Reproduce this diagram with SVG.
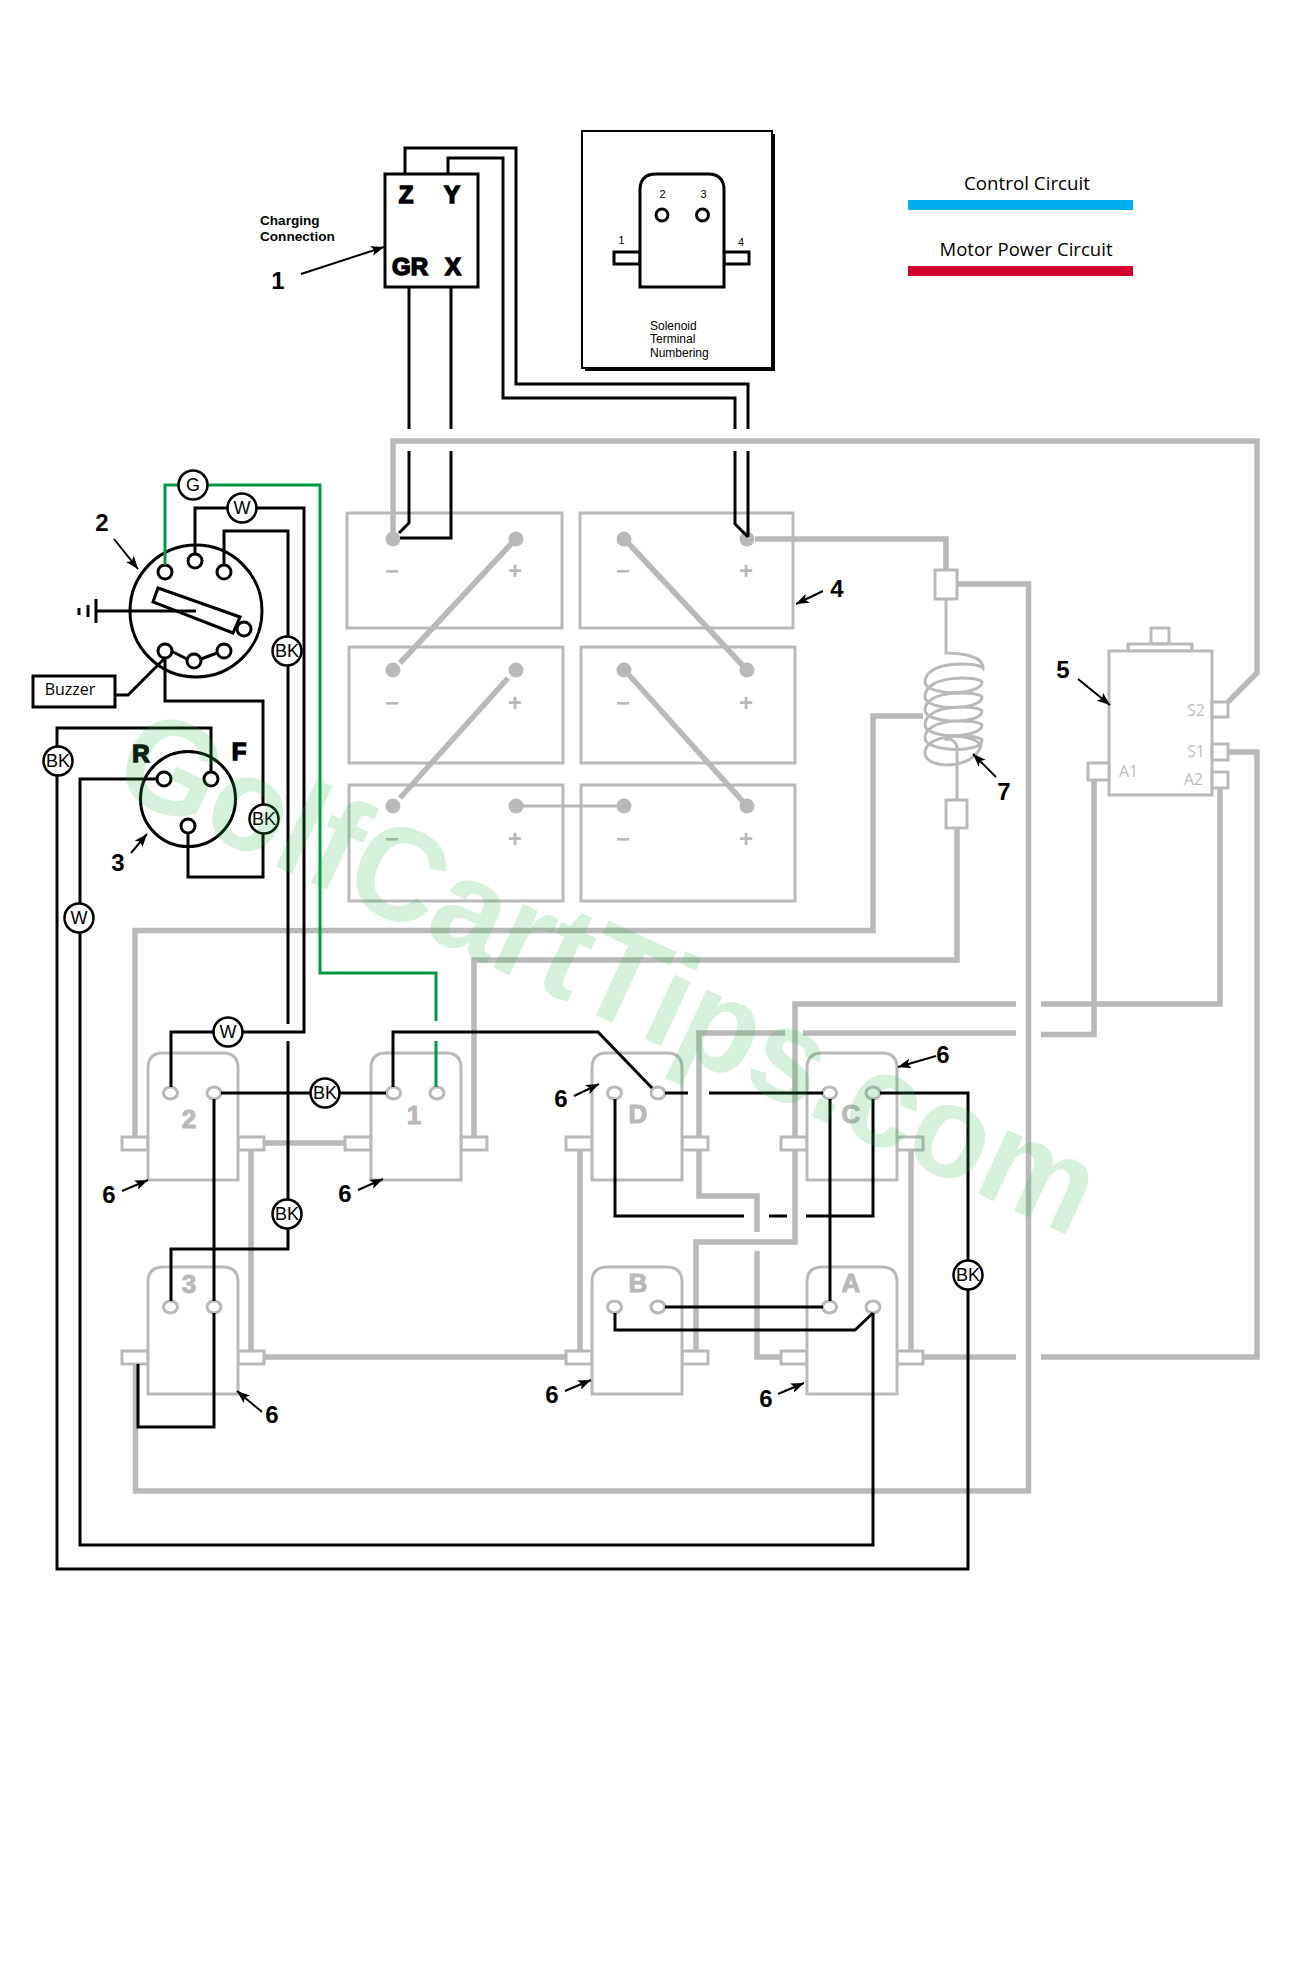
<svg xmlns="http://www.w3.org/2000/svg" xmlns:xlink="http://www.w3.org/1999/xlink" width="1312" height="1982" viewBox="0 0 1312 1982">
<style>
text{font-family:"Liberation Sans",Arial,sans-serif}
.shape{fill:#fff;stroke:#b9b9b9;stroke-width:3}
.hollow{fill:none;stroke:#b9b9b9;stroke-width:3}
.blk{fill:#fff;stroke:#000;stroke-width:3}
.wcirc{fill:#fff;stroke:#000;stroke-width:2.500}
.g5{fill:none;stroke:#b9b9b9;stroke-width:5.500}
.g3{fill:none;stroke:#b9b9b9;stroke-width:3}
.k{fill:none;stroke:#000;stroke-width:3}
.gr{fill:none;stroke:#009a46;stroke-width:3}
.dot{fill:#b9b9b9}
.lead{fill:none;stroke:#000;stroke-width:2;marker-end:url(#ah)}
.num{font-weight:bold;font-size:24px;text-anchor:middle;fill:#000}
.big{font-weight:bold;font-size:24px;text-anchor:middle;fill:#000;stroke:#000;stroke-width:1.500}
.sol{font-weight:bold;font-size:26px;text-anchor:middle;fill:#b9b9b9;stroke:#b9b9b9;stroke-width:1}
.pm{font-weight:bold;font-size:24px;text-anchor:middle;fill:#b9b9b9}
.wl{font-size:18px;text-anchor:middle;fill:#000}
.my{font-family:"Open Sans","Liberation Sans",sans-serif}
.term{font-size:16px;fill:#bdbdbd}
.tiny{font-size:11px;text-anchor:middle;fill:#000}
.small{font-size:12px;fill:#000}
</style>
<defs>
<marker id="ah" viewBox="0 0 13 10" refX="13" refY="5" markerWidth="13" markerHeight="10" orient="auto" markerUnits="userSpaceOnUse"><path d="M0,0L13,5L0,10L3,5Z" fill="#000"/></marker>
<g id="solbody">
<rect class="shape" x="-26" y="85" width="26" height="13"/>
<rect class="shape" x="90" y="85" width="26" height="13"/>
<path class="shape" d="M0,128V16Q0,1 15,1H75Q90,1 90,16V128Z"/>
<ellipse class="shape" cx="22.500" cy="41" rx="7" ry="6"/>
<ellipse class="shape" cx="66" cy="41" rx="7" ry="6"/>
</g>
<circle id="bt" class="dot" r="7.500"/>
<circle id="wc" class="wcirc" r="14.500"/>
</defs>

<g id="charging-connection">
<rect class="blk" x="385" y="174" width="93" height="113"/>
<text class="big" x="406" y="203">Z</text><text class="big" x="452" y="203">Y</text>
<text class="big" x="410" y="275">GR</text><text class="big" x="453" y="275">X</text>
<text x="260" y="225" font-weight="bold" font-size="13.600">Charging</text>
<text x="260" y="241" font-weight="bold" font-size="13.600">Connection</text>
</g>
<g id="terminal-numbering">
<rect x="585" y="134" width="190" height="237" fill="#000"/>
<rect x="582" y="131" width="190" height="237" fill="#fff" stroke="#000" stroke-width="2"/>
<rect class="blk" x="614" y="252" width="26" height="12"/>
<rect class="blk" x="724" y="252" width="25" height="12"/>
<path class="blk" d="M640,287V190Q640,174 656,174H708Q724,174 724,190V287Z"/>
<circle class="blk" cx="662" cy="215" r="6"/><circle class="blk" cx="702.500" cy="215" r="6"/>
<text class="tiny" x="662.500" y="198">2</text><text class="tiny" x="703.500" y="198">3</text>
<text class="tiny" x="621.500" y="244">1</text><text class="tiny" x="741" y="246">4</text>
<text class="small" x="650" y="329.500">Solenoid</text><text class="small" x="650" y="343">Terminal</text><text class="small" x="650" y="357">Numbering</text>
</g>
<g id="legend">
<text class="my" x="1027" y="189.500" font-size="18" text-anchor="middle" textLength="126" lengthAdjust="spacingAndGlyphs">Control Circuit</text>
<rect x="908" y="200" width="225" height="10" fill="#00aeef"/>
<text class="my" x="1026" y="255.500" font-size="18" text-anchor="middle" textLength="173" lengthAdjust="spacingAndGlyphs">Motor Power Circuit</text>
<rect x="908" y="266" width="225" height="10" fill="#d2002e"/>
</g>

<g id="batteries">
<g id="battery-1"><rect class="hollow" x="347" y="513" width="215" height="115"/><use xlink:href="#bt" x="393" y="539"/><use xlink:href="#bt" x="516" y="539"/><text class="pm" x="392" y="579">−</text><text class="pm" x="515" y="579">+</text></g>
<g id="battery-2"><rect class="hollow" x="580" y="513" width="213" height="115"/><use xlink:href="#bt" x="624" y="539"/><use xlink:href="#bt" x="747" y="539"/><text class="pm" x="623" y="579">−</text><text class="pm" x="746" y="579">+</text></g>
<g id="battery-3"><rect class="hollow" x="349" y="647" width="214" height="116"/><use xlink:href="#bt" x="393" y="670"/><use xlink:href="#bt" x="516" y="670"/><text class="pm" x="392" y="711">−</text><text class="pm" x="515" y="711">+</text></g>
<g id="battery-4"><rect class="hollow" x="581" y="647" width="214" height="116"/><use xlink:href="#bt" x="624" y="670"/><use xlink:href="#bt" x="747" y="670"/><text class="pm" x="623" y="711">−</text><text class="pm" x="746" y="711">+</text></g>
<g id="battery-5"><rect class="hollow" x="349" y="785" width="214" height="116"/><use xlink:href="#bt" x="393" y="806"/><use xlink:href="#bt" x="516" y="806"/><text class="pm" x="392" y="847">−</text><text class="pm" x="515" y="847">+</text></g>
<g id="battery-6"><rect class="hollow" x="581" y="785" width="214" height="116"/><use xlink:href="#bt" x="624" y="806"/><use xlink:href="#bt" x="747" y="806"/><text class="pm" x="623" y="847">−</text><text class="pm" x="746" y="847">+</text></g>
</g>

<g id="key-switch">
<circle class="blk" cx="196" cy="611" r="66"/>
<path class="blk" d="M158,588L240,617L233,633L153,602Z"/>
<circle class="blk" cx="165" cy="572" r="7"/><circle class="blk" cx="195" cy="561" r="7"/><circle class="blk" cx="224" cy="572" r="7"/>
<circle class="blk" cx="244" cy="629" r="7"/>
<circle class="blk" cx="165" cy="651" r="7"/><circle class="blk" cx="194" cy="661" r="7"/><circle class="blk" cx="224" cy="651" r="7"/>
</g>
<g id="buzzer"><rect class="blk" x="33" y="676" width="82" height="31"/><text class="my" x="70" y="695" font-size="16" text-anchor="middle">Buzzer</text></g>
<g id="direction-switch">
<circle class="blk" cx="188" cy="799" r="47.500"/>
<circle class="blk" cx="164" cy="779" r="7"/><circle class="blk" cx="211" cy="779" r="7"/><circle class="blk" cx="188" cy="826" r="7"/>
<text class="big" x="141" y="762">R</text><text class="big" x="239" y="760">F</text>
</g>
<g id="solenoid-2"><use xlink:href="#solbody" x="148" y="1052"/><text class="sol" x="189" y="1128">2</text></g>
<g id="solenoid-1"><use xlink:href="#solbody" x="371" y="1052"/><text class="sol" x="414" y="1124">1</text></g>
<g id="solenoid-3"><use xlink:href="#solbody" x="148" y="1266"/><text class="sol" x="189" y="1293">3</text></g>
<g id="solenoid-D"><use xlink:href="#solbody" x="592" y="1052"/><text class="sol" x="638" y="1123">D</text></g>
<g id="solenoid-C"><use xlink:href="#solbody" x="807" y="1052"/><text class="sol" x="851" y="1123">C</text></g>
<g id="solenoid-B"><use xlink:href="#solbody" x="592" y="1266"/><text class="sol" x="638" y="1292">B</text></g>
<g id="solenoid-A"><use xlink:href="#solbody" x="807" y="1266"/><text class="sol" x="851" y="1292">A</text></g>
<g id="motor">
<rect class="shape" x="1151" y="628" width="18" height="16"/>
<rect class="shape" x="1128" y="644" width="64" height="7"/>
<rect class="shape" x="1109" y="651" width="103" height="144"/>
<rect class="shape" x="1212" y="702" width="16" height="15"/>
<rect class="shape" x="1212" y="744" width="16" height="16"/>
<rect class="shape" x="1212" y="772" width="16" height="16"/>
<rect class="shape" x="1088" y="763" width="21" height="17"/>
<text class="my term" x="1205" y="716" text-anchor="end">S2</text>
<text class="my term" x="1205" y="757" text-anchor="end">S1</text>
<text class="my term" x="1203" y="785" text-anchor="end">A2</text>
<text class="my term" x="1119" y="777">A1</text>
</g>
<g id="coil">
<rect class="shape" x="935" y="570" width="22" height="29"/>
<path class="g3" d="M946,599V653C966,653 984,658 983,668C978,662 925,660 925,682C925,696 982,696 982,682C978,676 925,674 925,697C925,711 982,711 982,697C978,691 925,689 925,710C925,724 982,725 982,711C978,705 925,703 925,725C925,739 982,739 982,725C978,719 925,717 925,738C925,752 982,754 982,740C978,734 925,732 925,753C925,770 975,770 981,745C975,737 950,733 945,740C950,737 957,742 957,748V800"/>
<rect class="shape" x="946" y="800" width="21" height="28"/>
</g>

<g id="connectors">
<g id="power-wires">
<path class="g5" d="M393,532V441H1257V673L1228,702"/>
<path class="g5" d="M755,539H946V570"/>
<path class="g5" d="M957,584H1028.500V1491H135.500V1364"/>
<path class="g5" d="M512,543L400,663"/>
<path class="g5" d="M508,678L400,798"/>
<path class="g5" d="M629,544L747,670"/>
<path class="g5" d="M629,675L747,806"/>
<path class="g3" d="M516,806H624"/>
<path class="g5" d="M923,716H873V930.500H135V1137"/>
<path class="g5" d="M957,828V960H474V1137"/>
<path class="g5" d="M264,1143H345"/>
<path class="g5" d="M251,1150V1351"/>
<path class="g5" d="M264,1357H566"/>
<path class="g5" d="M580,1150V1351"/>
<path class="g5" d="M699,1137V1033H785M803,1033H1016M1041,1034.500H1094V780"/>
<path class="g5" d="M795,1137V1004H1016M1041,1004H1220V788"/>
<path class="g5" d="M795,1150V1242H696V1351"/>
<path class="g5" d="M699,1150V1196H757V1232M757,1251V1357H782"/>
<path class="g5" d="M911,1150V1351"/>
<path class="g5" d="M924,1357H1016M1041,1357H1257V752H1229"/>
</g>
<g id="control-wires">
<path class="k" d="M405,174V148H516V384H748V429M748,451V537"/>
<path class="k" d="M448,174V158H503V398H735V429M735,451V524L748,537"/>
<path class="k" d="M409,287V429M409,451V523L399,533"/>
<path class="k" d="M451,287V429M451,451V538H400"/>
<path class="k" d="M97,611H196"/>
<path class="k" d="M96,599V623M88,605V617M79,608V615"/>
<path class="k" d="M115,695H128L165,658"/>
<path class="k" d="M171,651L187,659M201,659L217,653"/>
<path class="k" d="M165,658V701H263V877H188V833"/>
<path class="k" d="M211,772V728H57V1569H968V1093H880"/>
<path class="k" d="M157,779H80V1545H873V1313"/>
<path class="k" d="M195,554V508H304V1032H171V1087"/>
<path class="k" d="M224,565V531H288V1024M288,1041V1249H171V1301"/>
<path class="k" d="M221,1093H386"/>
<path class="k" d="M214,1099V1301M214,1313V1427H138V1364"/>
<path class="k" d="M393,1087V1032H598L652,1088"/>
<path class="k" d="M665,1093H688M709,1093H823"/>
<path class="k" d="M830,1099V1301"/>
<path class="k" d="M665,1307H823"/>
<path class="k" d="M615,1099V1216H744M769,1216H787M806,1216H873V1099"/>
<path class="k" d="M615,1313V1330H855L873,1313"/>
<path class="gr" d="M165,565V485H320V973H436V1021M436,1041V1087"/>
</g>
</g>

<g id="wire-labels">
<g><use xlink:href="#wc" x="193" y="485"/><text class="wl" x="193" y="491">G</text></g>
<g><use xlink:href="#wc" x="242" y="508"/><text class="wl" x="242" y="514">W</text></g>
<g><use xlink:href="#wc" x="287" y="651"/><text class="wl" x="287" y="657">BK</text></g>
<g><use xlink:href="#wc" x="58" y="761"/><text class="wl" x="58" y="767">BK</text></g>
<g><use xlink:href="#wc" x="264" y="819"/><text class="wl" x="264" y="825">BK</text></g>
<g><use xlink:href="#wc" x="79" y="918"/><text class="wl" x="79" y="924">W</text></g>
<g><use xlink:href="#wc" x="228" y="1032"/><text class="wl" x="228" y="1038">W</text></g>
<g><use xlink:href="#wc" x="325" y="1093"/><text class="wl" x="325" y="1099">BK</text></g>
<g><use xlink:href="#wc" x="287" y="1214"/><text class="wl" x="287" y="1220">BK</text></g>
<g><use xlink:href="#wc" x="968" y="1275"/><text class="wl" x="968" y="1281">BK</text></g>
</g>

<g id="callouts">
<text class="num" x="278" y="289">1</text><path class="lead" d="M301,274L384,247"/>
<text class="num" x="102" y="531">2</text><path class="lead" d="M114,539L138,569"/>
<text class="num" x="118" y="871">3</text><path class="lead" d="M131,853L147,834"/>
<text class="num" x="837" y="597">4</text><path class="lead" d="M823,591L796,604"/>
<text class="num" x="1063" y="678">5</text><path class="lead" d="M1078,679L1110,705"/>
<text class="num" x="1004" y="800">7</text><path class="lead" d="M996,777L973,754"/>
<text class="num" x="109" y="1203">6</text><path class="lead" d="M122,1191L148,1180"/>
<text class="num" x="345" y="1202">6</text><path class="lead" d="M358,1190L383,1179"/>
<text class="num" x="272" y="1423">6</text><path class="lead" d="M262,1412L237,1391"/>
<text class="num" x="561" y="1107">6</text><path class="lead" d="M574,1096L599,1084"/>
<text class="num" x="943" y="1063">6</text><path class="lead" d="M936,1056L898,1067"/>
<text class="num" x="552" y="1403">6</text><path class="lead" d="M565,1391L591,1380"/>
<text class="num" x="766" y="1407">6</text><path class="lead" d="M778,1394L804,1383"/>
</g>

<text id="watermark" transform="translate(108,788) rotate(25)" font-weight="bold" font-size="133" fill="#2fb24c" fill-opacity=".2" textLength="1064" lengthAdjust="spacingAndGlyphs">GolfCartTips.com</text>
</svg>
